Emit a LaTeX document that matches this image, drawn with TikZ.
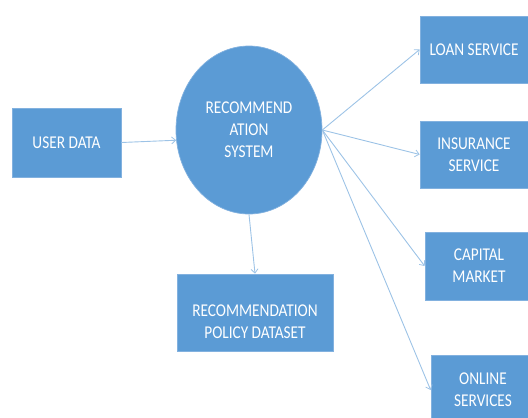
\documentclass[tikz,border=0pt]{standalone}
\usepackage{fontspec}
\setmainfont{Carlito}[FakeStretch=0.85]
\usetikzlibrary{arrows.meta,shapes.geometric}
\definecolor{boxfill}{HTML}{5B9BD5}
\definecolor{boxedge}{HTML}{82B1DF}
\definecolor{linkcol}{HTML}{9DC3E6}
\begin{document}
\begin{tikzpicture}[x=1pt,y=-1pt,
  blockbox/.style={draw=boxedge, line width=0.7pt, fill=boxfill, inner sep=0pt,
    text=white, align=center, font=\fontsize{18}{22}\selectfont},
  boxtext/.style={text=white, align=center, inner sep=0pt,
    font=\fontsize{18}{22}\selectfont},
  link/.style={draw=linkcol, line width=0.9pt,
    -{Straight Barb[length=4pt,width=7pt,line width=0.8pt]}}]
  \useasboundingbox (0,0) rectangle (528,418);
  \clip (0,0) rectangle (528,418);
  % input and central system
  \node[blockbox, minimum width=109, minimum height=69] (ud) at (66.5,142.5) {USER DATA};
  \node[blockbox, ellipse, minimum width=146, minimum height=168] (rs) at (249,130)
    {RECOMMEND\\ATION\\SYSTEM};
  % policy dataset below the system
  \node[blockbox, minimum width=156, minimum height=77] (rpd) at (255,312.5) {};
  \node[boxtext] (rpdlabel) at (255,322) {RECOMMENDATION\\POLICY DATASET};
  % services on the right
  \node[blockbox, minimum width=108, minimum height=67] (loan) at (474,49.5) {LOAN SERVICE};
  \node[blockbox, minimum width=108, minimum height=67] (ins) at (474,154.5) {INSURANCE\\SERVICE};
  \node[blockbox, minimum width=108, minimum height=68] (cap) at (479,266) {CAPITAL\\MARKET};
  \node[blockbox, minimum width=104, minimum height=70] (onl) at (483,390) {ONLINE\\SERVICES};
  % connectors
  \draw[link] (ud.east) -- (rs.188);
  \draw[link] (rs.south) -- (rpd.north);
  \draw[link] (rs.east) -- (loan.west);
  \draw[link] (rs.east) -- (ins.west);
  \draw[link] (rs.east) -- (cap.west);
  \draw[link] (rs.east) -- (onl.west);
\end{tikzpicture}
\end{document}
